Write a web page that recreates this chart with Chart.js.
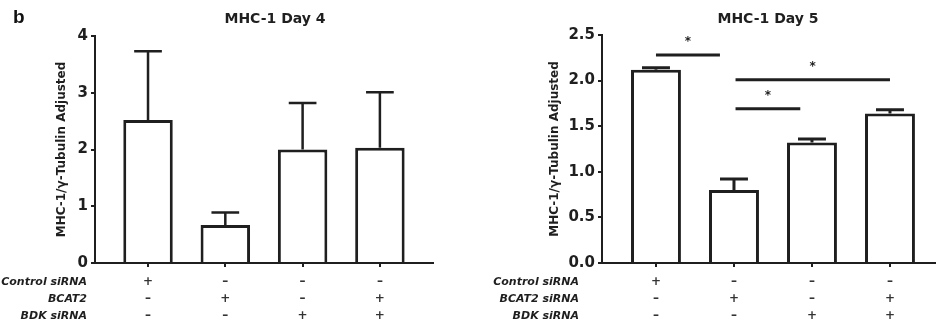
<!DOCTYPE html>
<html lang="en">
<head>
<meta charset="UTF-8">
<title>MHC-1 Day 4 / Day 5</title>
<script src="https://cdn.jsdelivr.net/npm/chart.js"></script>
<style>
  html, body { margin: 0; padding: 0; background: #fff; }
  body { width: 936px; height: 331px; position: relative; overflow: hidden; }
  #day4 { position: absolute; left: 0; top: 0; }
  #day5 { position: absolute; left: 470px; top: 0; }
</style>
</head>
<body>
<canvas id="day4" width="440" height="331"></canvas>
<canvas id="day5" width="466" height="331"></canvas>
<script>
  // groups on the x axis and the +/- table under them
  const groups = ['Control', 'BCAT2', 'BDK', 'BCAT2 + BDK'];
  const signRows = [
    ['+', '–', '–', '–'],
    ['–', '+', '–', '+'],
    ['–', '–', '+', '+']
  ];
  const rowNamesDay4 = ['Control siRNA', 'BCAT2', 'BDK siRNA'];
  const rowNamesDay5 = ['Control siRNA', 'BCAT2 siRNA', 'BDK siRNA'];

  // MHC-1 / gamma-tubulin, mean and upper error
  const day4Mean = [2.52, 0.67, 2.0, 2.03];
  const day4Err  = [1.21, 0.22, 0.82, 0.98];
  const day5Mean = [2.12, 0.80, 1.32, 1.64];
  const day5Err  = [0.02, 0.12, 0.04, 0.04];

  const day4Ticks = [0, 1, 2, 3, 4];
  const day5Ticks = [0, 0.5, 1, 1.5, 2, 2.5];

  // significance bars on day 5 (group index from/to, height)
  const sigFrom = [0, 1.02, 1.02];
  const sigTo   = [0.82, 3.0, 1.85];
  const sigY    = [2.28, 2.01, 1.69];

  const INK = '#1f1f1f';
  const FONT = "'DejaVu Sans', sans-serif";

  function makeChart(id, cfg) {
    const extras = {
      id: 'extras',
      afterDatasetsDraw(chart) {
        const ctx = chart.ctx;
        const xs = chart.scales.x, ys = chart.scales.y;
        const bars = chart.getDatasetMeta(0).data;
        ctx.save();
        ctx.strokeStyle = INK;
        ctx.lineWidth = cfg.errWidth;
        bars.forEach((bar, i) => {
          const top = ys.getPixelForValue(cfg.mean[i] + cfg.err[i]);
          const half = bar.width * 0.28;
          ctx.beginPath();
          ctx.moveTo(bar.x, bar.y);
          ctx.lineTo(bar.x, top);
          ctx.moveTo(bar.x - half, top);
          ctx.lineTo(bar.x + half, top);
          ctx.stroke();
        });

        // significance lines
        ctx.lineWidth = 3;
        ctx.fillStyle = INK;
        ctx.font = 'bold 12px ' + FONT;
        ctx.textAlign = 'center';
        ctx.textBaseline = 'middle';
        (cfg.sigY || []).forEach((v, k) => {
          const x1 = xs.getPixelForValue(cfg.sigFrom[k]);
          const x2 = xs.getPixelForValue(cfg.sigTo[k]);
          const y = ys.getPixelForValue(v);
          ctx.beginPath();
          ctx.moveTo(x1, y);
          ctx.lineTo(x2, y);
          ctx.stroke();
          ctx.fillText('*', (x1 + x2) / 2, y - 13);
        });

        // +/- table
        const base = chart.chartArea.bottom;
        const rowOff = [19, 36, 53];
        ctx.fillStyle = '#333';
        ctx.font = 'bold 12px ' + FONT;
        signRows.forEach((row, r) => {
          row.forEach((s, i) => ctx.fillText(s, xs.getPixelForValue(i), base + rowOff[r]));
        });
        ctx.fillStyle = INK;
        ctx.font = 'italic bold 11px ' + FONT;
        ctx.textAlign = 'right';
        cfg.rowNames.forEach((name, r) => ctx.fillText(name, cfg.rowNameX, base + rowOff[r]));

        // title
        ctx.textAlign = 'center';
        ctx.textBaseline = 'alphabetic';
        ctx.font = 'bold 14px ' + FONT;
        ctx.fillText(cfg.title, cfg.titleX, 23);
        if (cfg.panel) {
          ctx.textAlign = 'left';
          ctx.font = "bold 19px 'Liberation Sans', Arial, sans-serif";
          ctx.fillStyle = '#111';
          ctx.fillText(cfg.panel, 13, 23);
        }
        ctx.restore();
      }
    };

    return new Chart(document.getElementById(id), {
      type: 'bar',
      data: {
        datasets: [{
          data: cfg.mean.map((v, i) => ({ x: i, y: v })),
          backgroundColor: '#fff',
          borderColor: INK,
          borderWidth: 3,
          barPercentage: 0.64,
          categoryPercentage: 1
        }]
      },
      options: {
        responsive: false,
        animation: false,
        layout: { padding: { top: cfg.top, right: cfg.right, bottom: 0, left: 0 } },
        plugins: { legend: { display: false }, tooltip: { enabled: false } },
        scales: {
          x: {
            type: 'linear',
            offset: false,
            min: cfg.xMin,
            max: cfg.xMax,
            afterBuildTicks: s => { s.ticks = groups.map((g, i) => ({ value: i })); },
            afterFit: s => { s.height = 331 - cfg.bottom; },
            grid: { offset: false, drawOnChartArea: false, tickLength: 4, color: INK, lineWidth: 2 },
            border: { color: INK, width: 2 },
            ticks: { display: false }
          },
          y: {
            min: 0,
            max: cfg.ticks[cfg.ticks.length - 1],
            afterBuildTicks: s => { s.ticks = cfg.ticks.map(v => ({ value: v })); },
            afterFit: s => { s.width = cfg.left; },
            grid: { drawOnChartArea: false, tickLength: 4, color: INK, lineWidth: 2 },
            border: { color: INK, width: 2 },
            ticks: {
              color: INK,
              padding: 3,
              font: { family: FONT, size: 15, weight: 'bold' },
              callback: v => cfg.decimals ? v.toFixed(1) : String(v)
            },
            title: {
              display: true,
              text: 'MHC-1/γ-Tubulin Adjusted',
              color: INK,
              font: { family: FONT, size: 12, weight: 'bold' },
              padding: { top: cfg.titlePad, bottom: 0 }
            }
          }
        }
      },
      plugins: [extras]
    });
  }

  makeChart('day4', {
    title: 'MHC-1 Day 4', titleX: 275, panel: 'b',
    mean: day4Mean, err: day4Err, errWidth: 2.5, ticks: day4Ticks, decimals: false,
    rowNames: rowNamesDay4, rowNameX: 87,
    left: 95, right: 7, top: 36, bottom: 263, titlePad: 55,
    xMin: -0.686, xMax: 3.687
  });

  makeChart('day5', {
    title: 'MHC-1 Day 5', titleX: 298,
    mean: day5Mean, err: day5Err, errWidth: 3, ticks: day5Ticks, decimals: true,
    rowNames: rowNamesDay5, rowNameX: 109,
    sigFrom: sigFrom, sigTo: sigTo, sigY: sigY,
    left: 132, right: 0, top: 35, bottom: 263, titlePad: 78,
    xMin: -0.692, xMax: 3.59
  });
</script>
</body>
</html>
